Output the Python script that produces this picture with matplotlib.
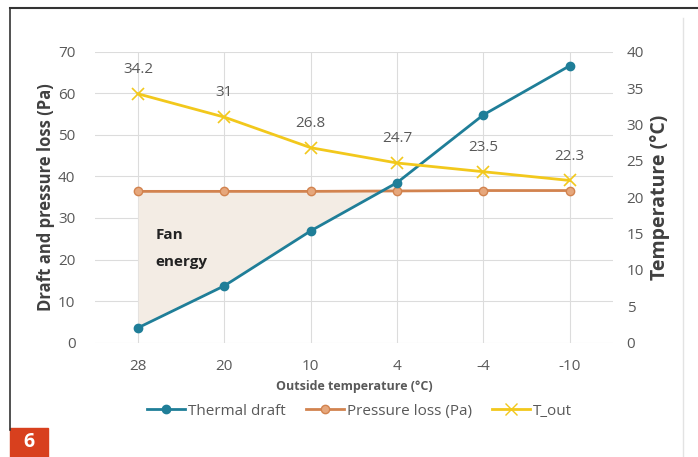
import matplotlib.pyplot as plt
from matplotlib.patches import Rectangle
from matplotlib.lines import Line2D

plt.rcParams['font.family'] = ['Open Sans', 'DejaVu Sans']

outside = ['28', '20', '10', '4', '-4', '-10']
thermal_draft = [3.6, 13.7, 26.9, 38.5, 54.8, 66.6]
pressure_loss = [36.4, 36.4, 36.4, 36.5, 36.6, 36.6]
t_out = [34.2, 31, 26.8, 24.7, 23.5, 22.3]
fan_n = 4  # fan energy shading covers first 4 categories

teal = '#1f7e98'
orange = '#d2834f'
yellow = '#f2c81c'
grey = '#595959'
dark = '#404040'

fig = plt.figure(figsize=(6.98, 4.57), dpi=100)
ax1 = fig.add_axes([0.136, 0.25, 0.742, 0.637])
ax2 = ax1.twinx()

x = list(range(len(outside)))

ax1.fill_between(x[:fan_n], thermal_draft[:fan_n], pressure_loss[:fan_n],
                 color='#f3ece4', zorder=1, lw=0)
ax1.plot(x, thermal_draft, color=teal, lw=2, marker='o', ms=6, zorder=4)
ax1.plot(x, pressure_loss, color=orange, lw=2, marker='o', ms=6,
         mfc='#e6a77c', mec=orange, zorder=3)
ax2.plot(x, t_out, color=yellow, lw=2, marker='x', ms=9, mew=1.2, zorder=3)

for xi, v in zip(x, t_out):
    ax2.annotate(f'{v:g}', (xi, v), xytext=(0, 12), textcoords='offset points',
                 ha='center', va='bottom', fontsize=11, color=grey)

ax1.text(0.2, 26, 'Fan', fontsize=11, fontweight='bold', color='#222222', va='center')
ax1.text(0.2, 19.3, 'energy', fontsize=11, fontweight='bold', color='#222222', va='center')

ax1.set_xlim(-0.5, 5.5)
ax1.set_ylim(0, 70)
ax2.set_ylim(0, 40)
ax1.set_xticks(x)
ax1.set_xticklabels(outside)
ax1.set_yticks(range(0, 71, 10))
ax2.set_yticks(range(0, 41, 5))

ax1.grid(True, color='#dcdcdc', lw=0.8)
ax1.set_axisbelow(True)
for a in (ax1, ax2):
    for s in a.spines.values():
        s.set_visible(False)
    a.tick_params(length=0, labelsize=11, labelcolor=grey)
ax1.tick_params(axis='x', pad=12)
ax1.tick_params(axis='y', pad=14)
ax2.tick_params(axis='y', pad=10)

ax1.set_xlabel('Outside temperature (°C)', fontsize=9, fontweight='bold', color=grey, labelpad=4)
ax1.set_ylabel('Draft and pressure loss (Pa)', fontsize=12, fontweight='bold', color=dark, labelpad=2)
ax2.set_ylabel('Temperature (°C)', fontsize=14, fontweight='bold', color=dark, labelpad=4)

handles = [
    Line2D([], [], color=teal, lw=2, marker='o', ms=6),
    Line2D([], [], color=orange, lw=2, marker='o', ms=6, mfc='#e6a77c', mec=orange),
    Line2D([], [], color=yellow, lw=2, marker='x', ms=9),
]
fig.legend(handles, ['Thermal draft', 'Pressure loss (Pa)', 'T_out'], loc='center',
           bbox_to_anchor=(0.515, 0.1), ncol=3, frameon=False, fontsize=11,
           labelcolor=grey, handlelength=2.5, handletextpad=0.2, columnspacing=1.3)

# frame lines and figure number box
fig.add_artist(Line2D([0.014, 1.0], [0.982, 0.982], color='#333333', lw=1.5))
fig.add_artist(Line2D([0.014, 0.014], [0.982, 0.06], color='#333333', lw=1.2))
fig.add_artist(Line2D([0.979, 0.979], [0.96, 0.0], color='#e3e3e3', lw=1))
fig.add_artist(Rectangle((0.014, 0.0), 0.055, 0.064, color='#d8401e'))
fig.text(0.0415, 0.032, '6', color='white', fontsize=14, fontweight='bold',
         ha='center', va='center')

fig.savefig('out.png', dpi=100)
